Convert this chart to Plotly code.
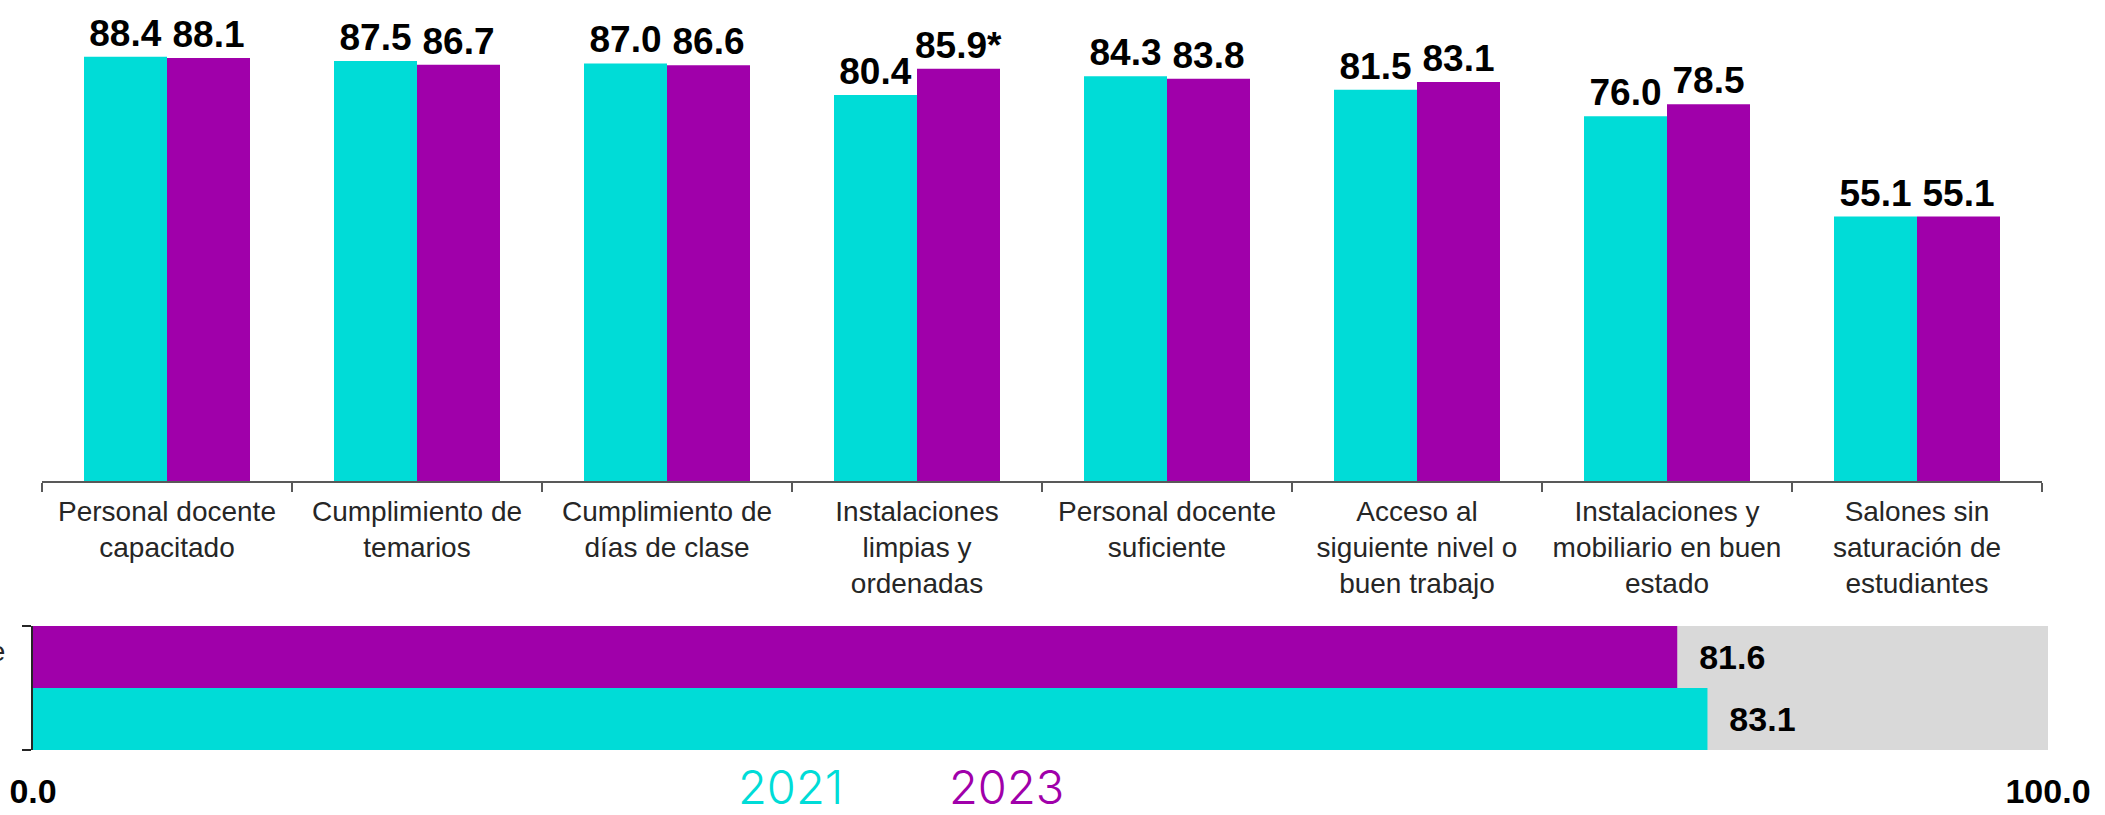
import plotly.graph_objects as go

# ---- data ----
categories = [
    "Personal docente<br>capacitado",
    "Cumplimiento de<br>temarios",
    "Cumplimiento de<br>días de clase",
    "Instalaciones<br>limpias y<br>ordenadas",
    "Personal docente<br>suficiente",
    "Acceso al<br>siguiente nivel o<br>buen trabajo",
    "Instalaciones y<br>mobiliario en buen<br>estado",
    "Salones sin<br>saturación de<br>estudiantes",
]
values_2021 = [88.4, 87.5, 87.0, 80.4, 84.3, 81.5, 76.0, 55.1]
values_2023 = [88.1, 86.7, 86.6, 85.9, 83.8, 83.1, 78.5, 55.1]
marks_2023 = ["", "", "", "*", "", "", "", ""]

overall_category = ["Satisfacción general con la escuela a la que asiste<br> <br> "]
overall_2021 = [83.1]
overall_2023 = [81.6]
overall_scale = [100.0]
scale_ticks = [0, 100]
series_names = ["2021", "2023"]

CYAN = "#00DCD7"
PURPLE = "#A000AA"
GRAY = "#D9D9D9"
FONT = "Arial, 'Liberation Sans', sans-serif"
LEGEND_FONT = "Inter, 'Open Sans', sans-serif"

fig = go.Figure()

# ---- top grouped bars ----
fig.add_trace(go.Bar(
    x=categories, y=values_2021, name=series_names[0], marker_color=CYAN,
    marker_line_width=0,
    text=[f"{v:.1f}" for v in values_2021], textposition="outside",
    textfont=dict(family=FONT, size=37, color="black", weight="bold"),
    constraintext="none", cliponaxis=False, xaxis="x", yaxis="y",
    showlegend=False,
))
fig.add_trace(go.Bar(
    x=categories, y=values_2023, name=series_names[1], marker_color=PURPLE,
    marker_line_width=0,
    text=[f"{v:.1f}{m}" for v, m in zip(values_2023, marks_2023)], textposition="outside",
    textfont=dict(family=FONT, size=37, color="black", weight="bold"),
    constraintext="none", cliponaxis=False, xaxis="x", yaxis="y",
    showlegend=False,
))

# ---- bottom horizontal overall bars ----
fig.add_trace(go.Bar(
    y=overall_category, x=overall_scale, orientation="h", marker_color=GRAY,
    marker_line_width=0, width=1, offset=-0.5, xaxis="x2", yaxis="y2",
    showlegend=False, hoverinfo="skip",
))
fig.add_trace(go.Bar(
    y=overall_category, x=overall_2021, orientation="h", marker_color=CYAN,
    marker_line_width=0, width=0.5, offset=-0.5, xaxis="x2", yaxis="y2",
    text=[f"  {v:.1f}" for v in overall_2021], textposition="outside",
    textfont=dict(family=FONT, size=34, color="black", weight="bold"),
    constraintext="none", cliponaxis=False, showlegend=False,
))
fig.add_trace(go.Bar(
    y=overall_category, x=overall_2023, orientation="h", marker_color=PURPLE,
    marker_line_width=0, width=0.5, offset=0, xaxis="x2", yaxis="y2",
    text=[f"  {v:.1f}" for v in overall_2023], textposition="outside",
    textfont=dict(family=FONT, size=34, color="black", weight="bold"),
    constraintext="none", cliponaxis=False, showlegend=False,
))

W, H = 2105, 815
fig.update_layout(
    width=W, height=H,
    margin=dict(l=0, r=0, t=0, b=0),
    paper_bgcolor="white", plot_bgcolor="white",
    font=dict(family=FONT, color="#262626"),
    barmode="group", bargap=0.336, bargroupgap=0,
    xaxis=dict(
        domain=[42 / W, 2042 / W], anchor="y", type="category",
        showline=True, linecolor="#595959", linewidth=2,
        ticks="outside", tickson="boundaries", ticklen=9, tickwidth=2, tickcolor="#595959",
        tickfont=dict(family=FONT, size=28, color="#262626"),
        ticklabelstandoff=4,
        showgrid=False, automargin=False,
    ),
    yaxis=dict(
        domain=[(H - 481) / H, (H - 1) / H], anchor="x", range=[0, 100],
        visible=False, showgrid=False, zeroline=False,
    ),
    xaxis2=dict(
        domain=[33 / W, 2048 / W], anchor="y2", range=[0, 100],
        tickvals=scale_ticks, tickformat=".1f", ticks="",
        tickfont=dict(family=FONT, size=34, color="black", weight="bold"),
        ticklabelstandoff=18,
        showgrid=False, zeroline=False, showline=False, automargin=False,
    ),
    yaxis2=dict(
        domain=[(H - 750) / H, (H - 626) / H], anchor="x2", type="category",
        range=[-0.5, 0.5],
        showline=True, linecolor="#262626", linewidth=2,
        ticks="outside", tickson="boundaries", ticklen=9, tickwidth=2, tickcolor="#262626",
        tickfont=dict(family=FONT, size=28, color="#262626"),
        ticklabelstandoff=20,
        showgrid=False, zeroline=False, automargin=False,
    ),
    annotations=[
        dict(text=series_names[0], x=790 / W, y=(H - 786) / H, xref="paper", yref="paper",
             showarrow=False, xanchor="center", yanchor="middle",
             font=dict(family=LEGEND_FONT, size=47, color=CYAN, weight=300)),
        dict(text=series_names[1], x=1006 / W, y=(H - 786) / H, xref="paper", yref="paper",
             showarrow=False, xanchor="center", yanchor="middle",
             font=dict(family=LEGEND_FONT, size=47, color=PURPLE, weight=300)),
    ],
)

fig.write_html("out.html", post_script="document.body.style.margin='0';",
               config={"displayModeBar": False})
